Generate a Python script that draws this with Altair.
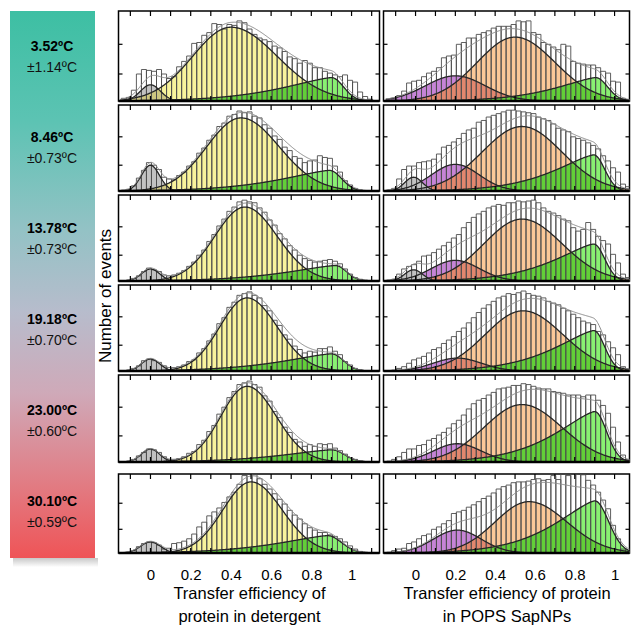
import altair as alt
import pandas as pd

FONT = "Liberation Sans, Arial, Helvetica, sans-serif"

# ---------------- data ----------------
TEMPS = ["3.52ºC", "8.46ºC", "13.78ºC", "19.18ºC", "23.00ºC", "30.10ºC"]
TEMP_SD = ["±1.14ºC", "±0.73ºC", "±0.73ºC", "±0.70ºC", "±0.60ºC", "±0.59ºC"]
Y_TITLE = "Number of events"

BIN_START = -0.145
BIN_WIDTH = 0.025

# histogram heights (percent of panel height), one list per temperature
DET_COUNTS = [
    [3,4,12,30,35,34,33,35,30,25,27,38,44,50,64,65,73,76,86,85,80,85,84,89,87,80,74,70,68,66,61,59,55,49,47,42,45,42,37,37,33,31,29,27,29,23,21,10,5,2],
    [1,2,6,15,24,33,30,25,16,14,13,18,22,29,34,44,50,59,65,75,79,87,89,93,91,92,87,85,77,73,64,60,51,47,40,38,33,35,36,41,39,38,29,22,12,7,3,1,0,0],
    [0,1,3,6,11,15,13,11,7,6,7,9,12,17,22,30,36,46,54,64,72,81,86,92,94,92,91,85,80,71,65,55,49,41,36,30,26,24,22,23,24,25,23,20,14,8,4,2,1,0],
    [0,1,3,6,12,14,12,10,6,4,4,5,7,11,13,21,26,35,43,55,62,74,80,88,90,92,88,85,76,70,59,53,42,37,29,25,21,23,22,26,26,28,23,19,11,7,3,1,0,0],
    [0,1,3,7,11,15,14,11,6,3,3,4,6,10,12,20,25,35,42,55,63,74,81,89,91,93,89,86,76,70,58,51,40,34,26,23,18,20,18,21,20,21,16,13,9,5,3,1,0,0],
    [0,1,3,8,12,14,13,10,5,6,12,13,15,18,24,33,39,47,52,57,64,71,77,87,98,100,99,94,87,81,75,68,62,54,48,43,37,32,29,26,26,23,21,18,14,9,5,2,1,0],
]
SAP_COUNTS = [
    [1,2,6,11,20,22,23,27,31,33,37,48,50,51,63,65,70,70,74,76,78,81,83,83,83,85,89,88,89,76,74,65,63,60,57,63,61,44,42,41,40,40,37,33,31,22,21,3,1,1],
    [1,3,14,25,29,29,33,34,35,37,43,51,53,57,61,67,71,73,80,82,86,88,90,92,94,94,93,92,91,90,86,84,82,78,73,71,69,63,61,59,56,53,49,41,35,27,22,8,5,2],
    [1,2,8,14,17,19,23,29,30,33,37,41,45,50,54,62,68,74,78,81,85,87,89,88,91,91,93,92,93,94,91,85,81,79,76,72,70,62,58,60,68,60,52,47,43,31,21,8,4,2],
    [0,1,3,5,9,13,15,17,21,25,27,32,36,40,46,50,56,62,68,73,77,81,85,87,90,89,91,93,90,88,87,85,81,79,77,73,70,66,62,58,56,54,46,42,34,27,19,5,2,1],
    [1,3,6,11,15,15,19,20,25,27,31,34,39,44,48,54,61,67,71,73,77,80,84,85,86,88,88,90,89,87,85,84,84,81,80,79,77,77,77,75,77,77,71,65,56,40,23,8,3,1],
    [1,3,5,6,12,14,18,22,24,30,33,37,41,50,52,54,58,61,65,69,72,76,81,84,86,89,90,90,91,93,94,92,93,98,93,100,98,100,100,99,92,86,77,67,56,35,18,5,1,0],
]

# fitted components: (centre, width left, width right, amplitude, shape exponent left)
DET_GRAY = [(0.0,0.05,0.05,18,2),(0.0,0.045,0.045,30,2),(0.0,0.045,0.045,14,2),(0.0,0.045,0.045,14,2),(0.0,0.045,0.045,15,2),(0.0,0.05,0.05,14,2)]
DET_YELLOW = [(0.40,0.19,0.23,82,2),(0.45,0.17,0.19,85,2),(0.47,0.15,0.16,86,2),(0.48,0.135,0.15,85,2),(0.48,0.13,0.145,87,2),(0.50,0.14,0.155,90,2)]
DET_GREEN = [(0.90,0.22,0.06,26,1.4),(0.89,0.22,0.06,24,1.4),(0.92,0.22,0.055,18,1.4),(0.90,0.22,0.06,20,1.4),(0.90,0.22,0.065,14,1.4),(0.88,0.22,0.07,22,1.4)]

SAP_GRAY = [(0.0,0.045,0.045,0,2),(-0.01,0.045,0.045,16,2),(-0.01,0.045,0.045,13,2),(0.0,0.045,0.045,0,2),(0.0,0.045,0.045,0,2),(0.0,0.05,0.05,0,2)]
SAP_PURPLE = [(0.20,0.15,0.15,28,2),(0.20,0.12,0.12,31,2),(0.20,0.12,0.12,24,2),(0.21,0.12,0.12,15,2),(0.21,0.12,0.12,21,2),(0.21,0.12,0.12,29,2)]
SAP_ORANGE = [(0.50,0.19,0.20,71,2),(0.535,0.20,0.20,75,2),(0.535,0.19,0.20,72,2),(0.54,0.19,0.20,70,2),(0.535,0.19,0.20,66,2),(0.57,0.17,0.19,65,2)]
SAP_GREEN = [(0.905,0.18,0.06,26,1.4),(0.895,0.18,0.055,42,1.4),(0.895,0.18,0.055,43,1.4),(0.895,0.18,0.055,47,1.4),(0.90,0.18,0.06,58,1.4),(0.90,0.18,0.07,66,1.4)]

X_TICKS = [-0.1, 0.0, 0.1, 0.2, 0.3, 0.4, 0.5, 0.6, 0.7, 0.8, 0.9, 1.0, 1.1]
X_LABELED = [0, 0.2, 0.4, 0.6, 0.8, 1]
Y_TICKS = [30, 63]

DET_TITLE = ["Transfer efficiency of", "protein in detergent"]
SAP_TITLE = ["Transfer efficiency of protein", "in POPS SapNPs"]

# ---------------- layout / style ----------------
ROW_HEIGHTS = [90, 86, 86, 86, 87, 79]
DET_W, SAP_W = 261, 246
DET_DOMAIN = [-0.159, 1.139]
SAP_DOMAIN = [-0.161, 1.075]
TICK_LEN = 5

C_GRAY = "#c2c2c2"
C_YELLOW = "#f8f39c"
C_OLIVE = "#cdc680"
C_PURPLE = "#c684d6"
C_ORANGE = "#fbc898"
C_SALMON = "#e2876e"
C_GREEN_DARK = "#62cf38"
C_GREEN_LIGHT = "#89f072"


def gexpr(p):
    mu, sl, sr, a, pl = p
    left = f"datum.x<{mu}"
    return (f"{a}*exp(-0.5*pow(abs(datum.x-({mu}))/({left}?{sl}:{sr}),({left}?{pl}:2)))")


def bottom_axis(ticks, title):
    return alt.Axis(orient="bottom", values=ticks, ticks=False, tickSize=0, domain=False, grid=False,
                    labelExpr=f"indexof({X_LABELED}, datum.value) >= 0 ? datum.label : ''",
                    format=".1~f", labelFontSize=15, labelFont=FONT, labelColor="black",
                    labelPadding=14, title=title, titleFontSize=16.5, titleFont=FONT,
                    titleFontWeight="normal", titleColor="black", titlePadding=3, titleLineHeight=23)


def panel(counts, fits, main_c, small_c, over_c, width, height, domain, bottom, title):
    xs = alt.Scale(domain=domain, nice=False, zero=False)
    ys = alt.Scale(domain=[0, 100], nice=False, zero=False)
    ticks = [v for v in X_TICKS if domain[0] < v < domain[1]]
    ax = bottom_axis(ticks, title) if bottom else None
    n = len(counts)
    bars_df = pd.DataFrame({
        "x0": [BIN_START + i * BIN_WIDTH for i in range(n)],
        "x1": [BIN_START + (i + 1) * BIN_WIDTH for i in range(n)],
        "h": counts,
        "b": [0] * n,
    })
    keys = list(fits.keys())
    base = alt.Chart(alt.sequence(-0.15, 1.1, 0.004, as_="x")).transform_calculate(
        **{k: gexpr(v) for k, v in fits.items()}
    ).transform_calculate(
        ov="min(datum.s, datum.m)",
        gv="min(datum.g, datum.m)",
        tot="+".join(f"datum.{k}" for k in keys),
    )
    X = alt.X("x:Q", scale=xs, axis=ax)

    def area(field, color):
        return base.mark_area(color=color, clip=True).encode(
            x=X, y=alt.Y(f"{field}:Q", scale=ys, axis=None))

    layers = [area("m", main_c), area("s", small_c), area("ov", over_c)]
    if "g0" in fits:
        layers.append(area("g0", C_GRAY))
    layers += [area("g", C_GREEN_LIGHT), area("gv", C_GREEN_DARK)]

    bars = alt.Chart(bars_df).mark_rect(fillOpacity=0, stroke="#4d4d4d", strokeWidth=0.9, clip=True).encode(
        x=alt.X("x0:Q", scale=xs, axis=ax),
        x2="x1:Q",
        y=alt.Y("h:Q", scale=ys, axis=None),
        y2="b:Q",
    )
    outline = base.transform_fold(keys, as_=["comp", "val"]).mark_line(
        color="#262626", strokeWidth=1.3, clip=True).encode(
        x=X, y=alt.Y("val:Q", scale=ys, axis=None), detail="comp:N")
    total = base.mark_line(color="#8c8c8c", strokeWidth=1.0, clip=True).encode(
        x=X, y=alt.Y("tot:Q", scale=ys, axis=None))
    rule = alt.Chart(pd.DataFrame({"y": [0]})).mark_rule(color="black", strokeWidth=2.5).encode(
        y=alt.Y("y:Q", scale=ys, axis=None))

    # inward tick marks on all four sides
    xt = pd.DataFrame({"v": ticks})
    yt = pd.DataFrame({"v": Y_TICKS})
    tick_kw = dict(color="black", strokeWidth=1.2)
    xt_bot = alt.Chart(xt).mark_rule(**tick_kw).encode(
        x=alt.X("v:Q", scale=xs, axis=ax), y=alt.value(height), y2=alt.value(height - TICK_LEN))
    xt_top = alt.Chart(xt).mark_rule(**tick_kw).encode(
        x=alt.X("v:Q", scale=xs, axis=ax), y=alt.value(0), y2=alt.value(TICK_LEN))
    yt_left = alt.Chart(yt).mark_rule(**tick_kw).encode(
        y=alt.Y("v:Q", scale=ys, axis=None), x=alt.value(0), x2=alt.value(TICK_LEN - 1))
    yt_right = alt.Chart(yt).mark_rule(**tick_kw).encode(
        y=alt.Y("v:Q", scale=ys, axis=None), x=alt.value(width), x2=alt.value(width - TICK_LEN + 1))

    layers += [bars, outline, total, rule, xt_bot, xt_top, yt_left, yt_right]
    return alt.layer(*layers).properties(width=width, height=height)


def column(counts_list, kind, width, domain, title):
    panels = []
    for r in range(6):
        if kind == "det":
            fits = {"s": DET_GRAY[r], "m": DET_YELLOW[r], "g": DET_GREEN[r]}
            cols = (C_YELLOW, C_GRAY, C_OLIVE)
        else:
            fits = {"s": SAP_PURPLE[r], "m": SAP_ORANGE[r], "g": SAP_GREEN[r]}
            if SAP_GRAY[r][3] > 0:
                fits["g0"] = SAP_GRAY[r]
            cols = (C_ORANGE, C_PURPLE, C_SALMON)
        panels.append(panel(counts_list[r], fits, *cols, width, ROW_HEIGHTS[r], domain, r == 5, title))
    upper = alt.vconcat(*panels[:5], spacing=0)
    return alt.vconcat(upper, panels[5], spacing=8)


# ---------------- sidebar ----------------
temps_df = pd.DataFrame({"row": list(range(6)), "t": TEMPS, "sd": TEMP_SD})
ysb = alt.Scale(domain=[-0.5, 5.5], reverse=True, nice=False, zero=False)
grad = alt.LinearGradient(
    gradient="linear", x1=0, x2=0, y1=0, y2=1,
    stops=[
        alt.GradientStop(color="#3dbfa3", offset=0.0),
        alt.GradientStop(color="#5cc3b3", offset=0.2),
        alt.GradientStop(color="#93c2c5", offset=0.4),
        alt.GradientStop(color="#b7bccc", offset=0.55),
        alt.GradientStop(color="#cfa9b8", offset=0.7),
        alt.GradientStop(color="#e08088", offset=0.85),
        alt.GradientStop(color="#ef5457", offset=1.0),
    ])
shadow_grad = alt.LinearGradient(
    gradient="linear", x1=0, x2=0, y1=0, y2=1,
    stops=[alt.GradientStop(color="#c8c8c8", offset=0.0),
           alt.GradientStop(color="#ffffff", offset=1.0)])
shadow = alt.Chart(pd.DataFrame({"lo": [5.5], "hi": [5.6]})).mark_rect(color=shadow_grad).encode(
    x=alt.value(3), x2=alt.value(88),
    y=alt.Y("lo:Q", scale=ysb, axis=None), y2="hi:Q")
band = alt.Chart(pd.DataFrame({"lo": [-0.5], "hi": [5.5]})).mark_rect(color=grad).encode(
    x=alt.value(0), x2=alt.value(85),
    y=alt.Y("lo:Q", scale=ysb, axis=None), y2="hi:Q")
t1 = alt.Chart(temps_df).mark_text(font=FONT, fontSize=14, fontWeight="bold", dy=-10, color="black").encode(
    x=alt.value(42), y=alt.Y("row:Q", scale=ysb, axis=None), text="t:N")
t2 = alt.Chart(temps_df).mark_text(font=FONT, fontSize=14, dy=11, color="#111111").encode(
    x=alt.value(42), y=alt.Y("row:Q", scale=ysb, axis=None), text="sd:N")
ytitle = alt.Chart(pd.DataFrame({"t": [Y_TITLE]})).mark_text(
    font=FONT, fontSize=17, angle=270, align="center", baseline="middle", color="black").encode(
    x=alt.value(96), y=alt.value(285), text="t:N")
side = alt.layer(shadow, band, t1, t2, ytitle).properties(
    width=85, height=547, view=alt.ViewBackground(stroke="transparent"))

colL = column(DET_COUNTS, "det", DET_W, DET_DOMAIN, DET_TITLE)
colR = column(SAP_COUNTS, "sap", SAP_W, SAP_DOMAIN, SAP_TITLE)

chart = alt.hconcat(
    side, alt.hconcat(colL, colR, spacing=0), spacing=1.5
).properties(
    padding={"left": 1, "top": 1, "right": 0, "bottom": 0},
    background="white",
).configure_view(stroke="black", strokeWidth=1.5)

chart.save("out.html", embed_options={"renderer": "svg", "actions": False})
